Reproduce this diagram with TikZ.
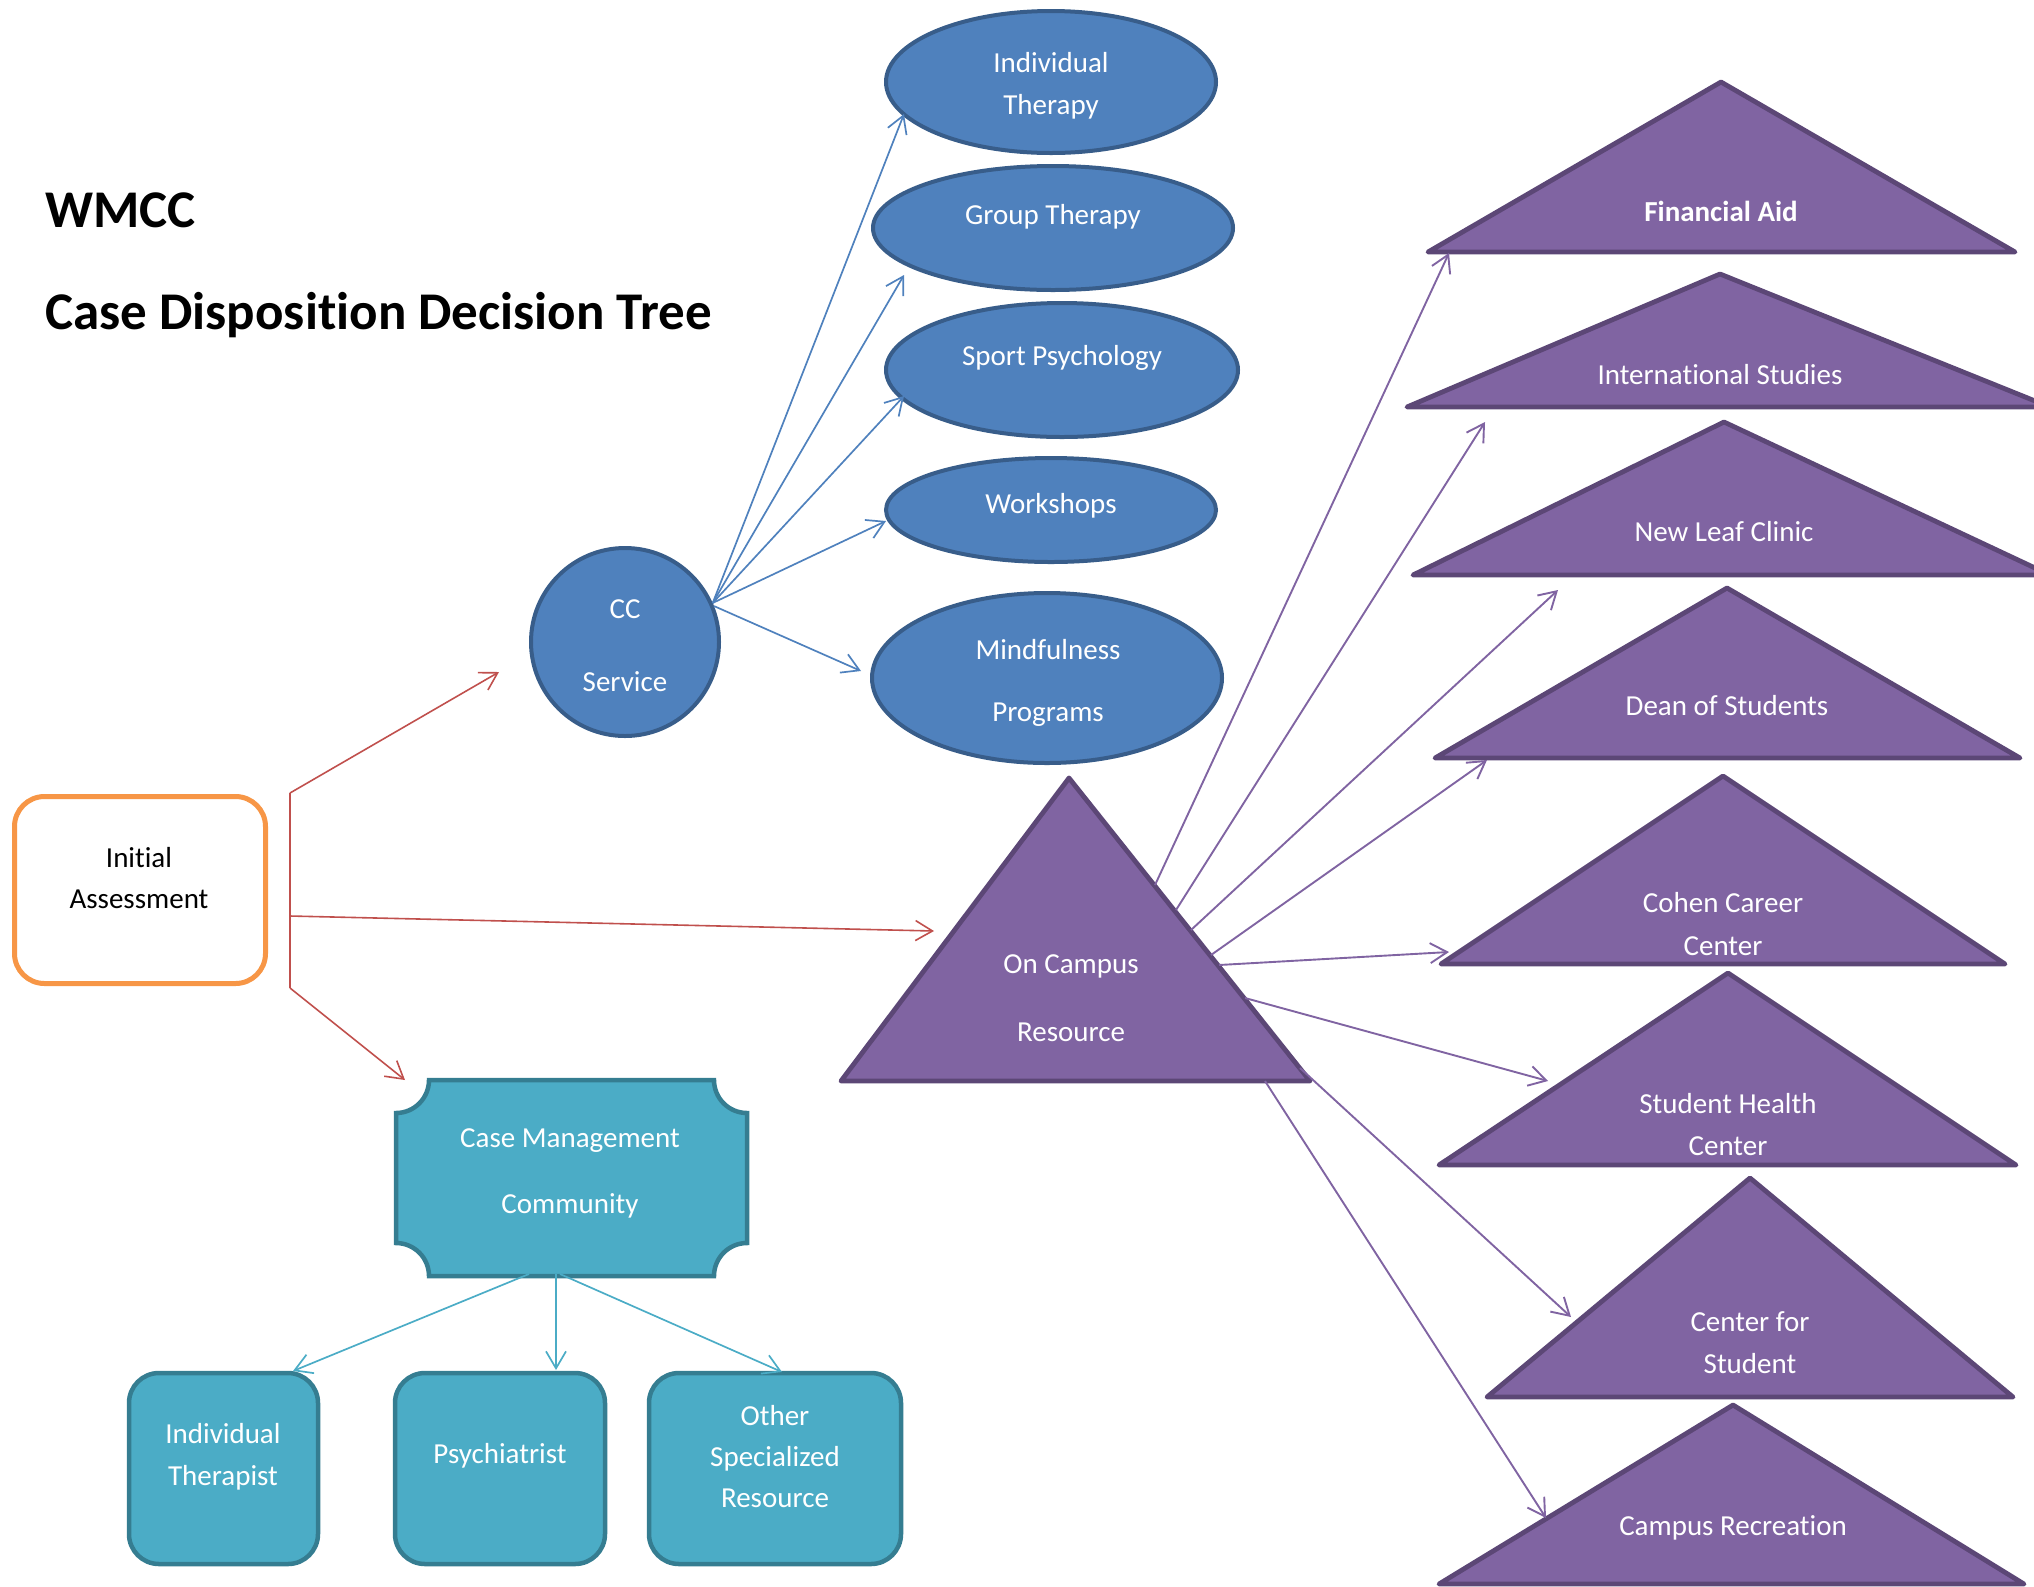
\documentclass[tikz,border=0pt]{standalone}
\usepackage{fontspec}
\setmainfont{Carlito}[Ligatures=NoCommon]
\usetikzlibrary{arrows.meta,shapes.geometric}
\definecolor{bfill}{HTML}{4F81BD}
\definecolor{bline}{HTML}{385D8A}
\definecolor{pfill}{HTML}{8064A2}
\definecolor{pline}{HTML}{5C4776}
\definecolor{tfill}{HTML}{4BACC6}
\definecolor{tline}{HTML}{357D91}
\definecolor{orng}{HTML}{F79646}
\definecolor{redl}{HTML}{C0504D}
\begin{document}
\begin{tikzpicture}[x=0.5pt,y=-0.5pt,
  lbl/.style={text=white, align=center, inner sep=0pt, yshift=-1.5pt, font=\fontsize{14.5}{21}\selectfont},
  ttl/.style={text=black, inner sep=0pt, anchor=base west, font=\bfseries\fontsize{26.5}{30}\selectfont},
  bshape/.style={draw=bline, fill=bfill, line width=2pt, inner sep=0pt},
  bell/.style={bshape, ellipse},
  ptri/.style={draw=pline, fill=pfill, line width=2.4pt, line join=round},
  tshape/.style={draw=tline, fill=tfill, line width=2.25pt},
  tbox/.style={tshape, rounded corners=15pt, inner sep=0pt, minimum height=95.5pt},
  tip/.style={-{Straight Barb[length=8.5pt,width=10pt]}},
  redarr/.style={draw=redl, line width=0.8pt, tip},
  bluearr/.style={draw=bfill, line width=0.85pt, tip},
  purarr/.style={draw=pfill, line width=0.95pt, tip},
  tealarr/.style={draw=tfill, line width=0.85pt, tip}]
\useasboundingbox (0,0) rectangle (2034,1586);
\clip (0,0) rectangle (2034,1586);

% titles
\node[ttl] (t1) at (45,227) {WMCC};
\node[ttl] (t2) at (45,329) {Case Disposition Decision Tree};

% initial assessment
\node[draw=orng, line width=2.5pt, fill=white, rounded corners=15pt,
      minimum width=125.5pt, minimum height=93.5pt, inner sep=0pt] (ia) at (140,890) {};
\node[lbl, text=black, font=\fontsize{14.5}{20.5}\selectfont] (iat) at (139,875) {Initial\\Assessment};

% CC service
\node[bshape, circle, minimum size=94pt] (cc) at (625,642) {};
\node[lbl, font=\fontsize{14.5}{36.5}\selectfont] (cct) at (625,643) {CC\\Service};

% ellipses
\node[bell, minimum width=165pt, minimum height=71pt] (it) at (1051,82) {};
\node[lbl] (itt) at (1051,83) {Individual\\Therapy};
\node[bell, minimum width=180pt, minimum height=62pt] (gt) at (1053,228) {};
\node[lbl] (gtt) at (1053,214) {Group Therapy};
\node[bell, minimum width=176pt, minimum height=67pt] (sp) at (1062,370) {};
\node[lbl] (spt) at (1062,355) {Sport Psychology};
\node[bell, minimum width=165pt, minimum height=52pt] (ws) at (1051,510) {};
\node[lbl] (wst) at (1051,503) {Workshops};
\node[bell, minimum width=175pt, minimum height=85pt] (mp) at (1047,678) {};
\node[lbl, font=\fontsize{14.5}{31}\selectfont] (mpt) at (1048,680) {Mindfulness\\Programs};

% case management plaque
\path[tshape] (429,1080) -- (714,1080) arc[start angle=180,end angle=270,radius=16.5pt]
  -- (747,1243) arc[start angle=90,end angle=180,radius=16.5pt]
  -- (429,1276) arc[start angle=0,end angle=90,radius=16.5pt]
  -- (396,1113) arc[start angle=270,end angle=360,radius=16.5pt] -- cycle;
\node[lbl, font=\fontsize{14.5}{33}\selectfont] (cmt) at (570,1170) {Case Management\\Community};

% community boxes
\node[tbox, minimum width=94.5pt] (ith) at (223.5,1468.5) {};
\node[lbl] (itht) at (223,1454) {Individual\\Therapist};
\node[tbox, minimum width=105pt] (psy) at (500,1468.5) {};
\node[lbl] (psyt) at (500,1453) {Psychiatrist};
\node[tbox, minimum width=126pt] (osr) at (775,1468.5) {};
\node[lbl, font=\fontsize{14.5}{20.5}\selectfont] (osrt) at (775,1454) {Other\\Specialized\\Resource};

% on campus resource
\path[ptri] (1069,778) -- (1310,1081) -- (841,1081) -- cycle;
\node[lbl, font=\fontsize{14.5}{34}\selectfont] (oct) at (1071,995) {On Campus\\Resource};

% campus resource triangles
\path[ptri] (1721,82) -- (2015,252) -- (1428,252) -- cycle;
\node[lbl, font=\bfseries\fontsize{14.5}{21}\selectfont] (fat) at (1721,208) {Financial Aid};
\path[ptri] (1720,274) -- (2050,407) -- (1407,407) -- cycle;
\node[lbl] (ist) at (1720,372) {International Studies};
\path[ptri] (1724,422) -- (2050,575) -- (1413,575) -- cycle;
\node[lbl] (nlt) at (1724,529) {New Leaf Clinic};
\path[ptri] (1727,588) -- (2020,758) -- (1435,758) -- cycle;
\node[lbl] (dst) at (1727,703) {Dean of Students};
\path[ptri] (1723,776) -- (2005,964) -- (1441,964) -- cycle;
\node[lbl, font=\fontsize{14.5}{21.5}\selectfont] (ccct) at (1723,921) {Cohen Career\\Center};
\path[ptri] (1728,973) -- (2016,1165) -- (1439,1165) -- cycle;
\node[lbl] (shct) at (1728,1122) {Student Health\\Center};
\path[ptri] (1750,1178) -- (2013,1397) -- (1487,1397) -- cycle;
\node[lbl] (cfst) at (1750,1340) {Center for\\Student};
\path[ptri] (1733,1405) -- (2024,1584) -- (1439,1584) -- cycle;
\node[lbl] (crt) at (1733,1525) {Campus Recreation};

% connector points
\coordinate (f1) at (290,793);
\coordinate (f2) at (290,916);
\coordinate (f3) at (290,988);
\coordinate (ccin) at (499,672);
\coordinate (ocin) at (934,931);
\coordinate (cmin) at (405,1080);

\coordinate (itin) at (904,114);
\coordinate (gtin) at (904,275);
\coordinate (spin) at (904,396);
\coordinate (wsin) at (886,521);
\coordinate (mpin) at (861,671);

\coordinate (cmo1) at (529,1274);
\coordinate (cmo2) at (556,1274);
\coordinate (cmo3) at (560,1274);
\coordinate (ithin) at (293,1371);
\coordinate (psyin) at (556,1370);
\coordinate (osrin) at (782,1372);

\coordinate (o1) at (1155,885);
\coordinate (o2) at (1176,910);
\coordinate (o3) at (1191,930);
\coordinate (o4) at (1211,955);
\coordinate (o5) at (1219,965);
\coordinate (o6) at (1245,998);
\coordinate (o7) at (1300,1068);
\coordinate (o8) at (1265,1081);
\coordinate (fain) at (1449,253);
\coordinate (isin) at (1485,422);
\coordinate (nlin) at (1558,590);
\coordinate (dsin) at (1487,760);
\coordinate (cccin) at (1449,952);
\coordinate (shcin) at (1548,1081);
\coordinate (cfsin) at (1571,1317);
\coordinate (crin) at (1546,1518);

% red connectors
\draw[draw=redl, line width=0.8pt] (f1) -- (f3);
\draw[redarr] (f1) -- (ccin);
\draw[redarr] (f2) -- (ocin);
\draw[redarr] (f3) -- (cmin);

% blue connectors
\draw[bluearr] (cc.24) -- (itin);
\draw[bluearr] (cc.24) -- (gtin);
\draw[bluearr] (cc.24) -- (spin);
\draw[bluearr] (cc.24) -- (wsin);
\draw[bluearr] (cc.22) -- (mpin);

% teal connectors
\draw[tealarr] (cmo1) -- (ithin);
\draw[tealarr] (cmo2) -- (psyin);
\draw[tealarr] (cmo3) -- (osrin);

% purple connectors
\draw[purarr] (o1) -- (fain);
\draw[purarr] (o2) -- (isin);
\draw[purarr] (o3) -- (nlin);
\draw[purarr] (o4) -- (dsin);
\draw[purarr] (o5) -- (cccin);
\draw[purarr] (o6) -- (shcin);
\draw[purarr] (o7) -- (cfsin);
\draw[purarr] (o8) -- (crin);
\end{tikzpicture}
\end{document}
